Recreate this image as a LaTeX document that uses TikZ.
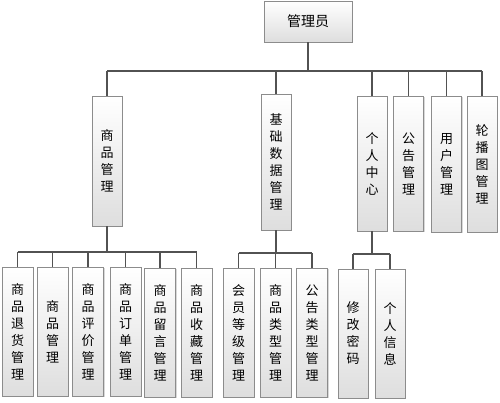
\documentclass[tikz,border=0pt]{standalone}
\usepackage{fontspec}
\newfontfamily\cjk{Noto Sans CJK SC}
\usetikzlibrary{shadows}
\tikzset{
  box/.style={draw=black!45, line width=0.8pt, top color=white, bottom color=black!13,
    minimum width=30, minimum height=129, inner sep=0pt, align=center,
    font=\cjk\fontsize{13}{17}\selectfont,
    drop shadow={shadow xshift=1.2pt, shadow yshift=-1.2pt, fill=black!30, opacity=0.5}},
  link/.style={draw=black!68, line width=1.1pt}
}
\begin{document}
\begin{tikzpicture}[x=1pt,y=-1pt]
\useasboundingbox (0,0) rectangle (500,402);
% root
\node[box, minimum width=88, minimum height=41, font=\cjk\fontsize{14}{17}\selectfont] (top) at (308,21.5) {管理员};
% level 2
\node[box, minimum height=130] (A) at (107,161) {商\\品\\管\\理};
\node[box, minimum height=136] (B) at (276,162) {基\\础\\数\\据\\管\\理};
\node[box, minimum height=135] (C) at (372,163.5) {个\\人\\中\\心};
\node[box, minimum height=135] (D) at (408.5,163.5) {公\\告\\管\\理};
\node[box, minimum height=136] (E) at (446.5,164) {用\\户\\管\\理};
\node[box, minimum height=136] (F) at (482,164) {轮\\播\\图\\管\\理};
% level 3 under A
\node[box, minimum width=31] (a1) at (17.5,331.5) {商\\品\\退\\货\\管\\理};
\node[box, minimum width=31] (a2) at (52.5,331.5) {商\\品\\管\\理};
\node[box, minimum width=31] (a3) at (88,331.5) {商\\品\\评\\价\\管\\理};
\node[box, minimum width=31] (a4) at (125.5,331.5) {商\\品\\订\\单\\管\\理};
\node[box, minimum width=31] (a5) at (160,332.5) {商\\品\\留\\言\\管\\理};
\node[box, minimum width=31] (a6) at (196.5,332.5) {商\\品\\收\\藏\\管\\理};
% level 3 under B
\node[box, minimum width=31] (b1) at (238.5,332.5) {会\\员\\等\\级\\管\\理};
\node[box, minimum width=31] (b2) at (275.5,332.5) {商\\品\\类\\型\\管\\理};
\node[box, minimum width=31] (b3) at (312,332.5) {公\\告\\类\\型\\管\\理};
% level 3 under C
\node[box] (c1) at (353,333.5) {修\\改\\密\\码};
\node[box] (c2) at (390,333.5) {个\\人\\信\\息};
% buses
\coordinate (bus0) at (0,71);
\coordinate (busA) at (0,252);
\coordinate (busB) at (0,253);
\coordinate (busC) at (0,254);
% root connectors
\draw[link] (top.south) -- (top.south |- bus0);
\draw[link] (A.north |- bus0) -- (F.north |- bus0);
\foreach \n in {A,B,C,D,E,F} \draw[link] (\n.north) -- (\n.north |- bus0);
% A connectors
\draw[link] (A.south) -- (A.south |- busA);
\draw[link] (a1.north |- busA) -- (a6.north |- busA);
\foreach \n in {a1,a2,a3,a4,a5,a6} \draw[link] (\n.north) -- (\n.north |- busA);
% B connectors
\draw[link] (B.south) -- (B.south |- busB);
\draw[link] (b1.north |- busB) -- (b3.north |- busB);
\foreach \n in {b1,b2,b3} \draw[link] (\n.north) -- (\n.north |- busB);
% C connectors
\draw[link] (C.south) -- (C.south |- busC);
\draw[link] (c1.north |- busC) -- (c2.north |- busC);
\foreach \n in {c1,c2} \draw[link] (\n.north) -- (\n.north |- busC);
\end{tikzpicture}
\end{document}
